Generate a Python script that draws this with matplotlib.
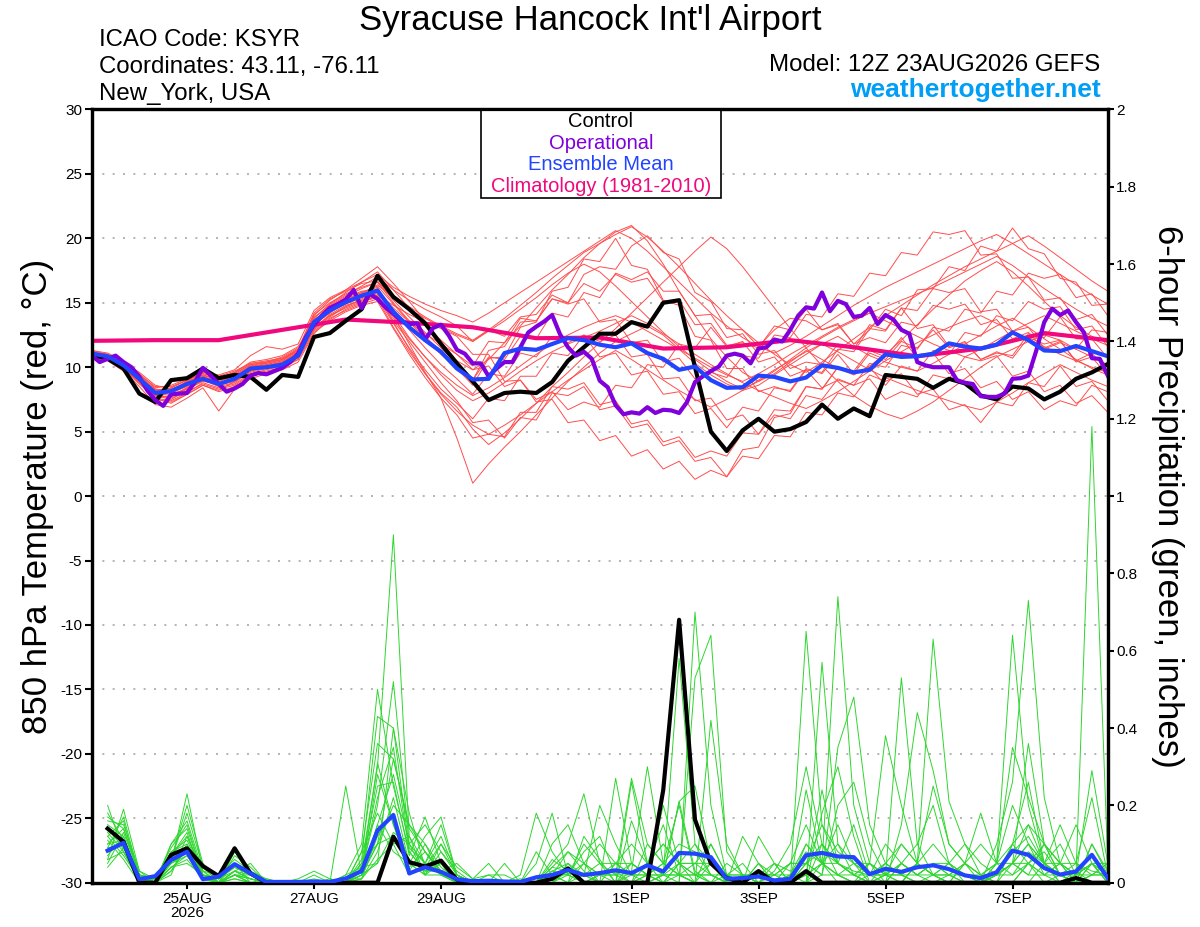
import matplotlib
matplotlib.use("Agg")
import matplotlib.pyplot as plt
from matplotlib.patches import Rectangle
import numpy as np

plt.rcParams["font.family"] = ["Liberation Sans", "DejaVu Sans"]
plt.rcParams["axes.unicode_minus"] = False

# Steps are 6-hourly from 12Z 23AUG2026 (step 0) to 12Z 8SEP (step 64).
date_ticks = [6, 14, 22, 34, 42, 50, 58]
date_labels = ["25AUG\n2026", "27AUG", "29AUG", "1SEP", "3SEP", "5SEP", "7SEP"]

# 850 hPa temperature, degC
control_temp = [10.97, 10.66, 9.9, 7.95, 7.3, 9.0, 9.15, 9.9, 9.15, 9.4, 9.25, 8.25, 9.4, 9.25,
                12.35, 12.65, 13.6, 14.5, 17.1, 15.45, 14.5, 13.4, 11.8, 10.3, 8.9, 7.45, 8.0,
                8.1, 8.0, 8.85, 10.5, 11.55, 12.6, 12.6, 13.5, 13.15, 15.0, 15.2, 10.0, 5.0, 3.5,
                5.1, 6.0, 5.0, 5.2, 5.75, 7.1, 6.0, 6.8, 6.2, 9.4, 9.25, 9.1, 8.4, 9.1, 8.75, 7.8,
                7.5, 8.5, 8.35, 7.5, 8.1, 9.1, 9.6, 10.25]
mean_temp = [11.05, 10.85, 10.15, 9.1, 8.0, 8.15, 8.7, 9.1, 8.7, 9.1, 9.9, 10.0, 10.2, 10.9,
             13.5, 14.4, 15.05, 15.55, 15.95, 14.3, 13.1, 12.1, 11.2, 9.9, 9.05, 9.1, 11.1,
             11.45, 11.35, 11.8, 12.25, 12.1, 11.75, 11.55, 11.85, 11.1, 10.65, 9.8, 10.05, 9.0,
             8.4, 8.45, 9.35, 9.25, 8.9, 9.2, 10.15, 9.95, 9.6, 9.8, 11.0, 10.8, 10.85, 11.05,
             11.85, 11.6, 11.45, 11.75, 12.7, 12.1, 11.3, 11.25, 11.65, 11.25, 10.85]
# operational run is 3-hourly
oper_temp = [10.9, 10.4, 10.65, 10.9, 10.4, 10.0, 9.25, 8.2, 7.45, 7.0, 7.9, 7.95, 8.0, 8.85,
             9.95, 9.35, 8.7, 8.1, 8.35, 8.7, 9.35, 9.55, 9.45, 9.7, 9.95, 10.4, 11.05, 12.35,
             13.3, 14.0, 14.6, 14.9, 15.25, 16.0, 14.6, 15.7, 15.3, 14.65, 14.15, 13.6, 13.35,
             13.4, 12.15, 13.05, 13.3, 12.45, 11.35, 11.05, 10.3, 10.3, 9.3, 9.9, 10.4, 10.4,
             11.55, 12.7, 13.15, 13.55, 14.05, 12.55, 11.55, 10.9, 11.2, 10.65, 8.95, 8.45,
             7.05, 6.35, 6.5, 6.4, 6.9, 6.45, 6.7, 6.65, 6.45, 7.3, 8.85, 9.3, 9.7, 10.05,
             10.9, 11.05, 10.9, 10.3, 11.45, 11.55, 12.15, 12.0, 12.9, 14.0, 14.65, 14.55,
             15.8, 14.35, 15.15, 14.9, 13.9, 14.0, 14.6, 13.35, 14.05, 13.7, 12.9, 12.6, 10.4,
             10.15, 10.0, 10.0, 10.0, 9.0, 8.8, 8.7, 7.75, 7.7, 7.7, 7.95, 9.1, 9.15, 9.35,
             11.3, 13.5, 14.55, 14.05, 14.4, 13.5, 12.7, 10.7, 10.65, 9.35]
# climatology, daily at 12Z
clim_temp = [12.05, 12.1, 12.1, 12.9, 13.7, 13.45, 13.1, 12.25, 12.3, 11.45, 11.55, 12.1,
             11.55, 10.85, 11.45, 12.65, 12.1]

# ensemble members, temperature
temp_m01 = [11.2, 10.9, 10.3, 9.4, 8.3, 8.0, 8.5, 9.2, 9.0, 9.3, 10.1, 10.4, 10.8, 11.5,
            13.8, 14.9, 15.6, 16.3, 17.0, 16.0, 15.2, 14.5, 13.9,
            13.2, 12.0, 12.9, 12.4, 13.9, 14.1, 15.6, 15.0, 17.2, 17.8, 17.6, 19.4, 20.2, 18.9,
            18.4, 15.8, 15.1, 13.0, 12.9, 11.6, 12.9, 13.8, 13.6, 12.9, 13.4, 11.8, 12.9, 14.5,
            14.0, 16.0, 16.1, 17.8, 17.5, 19.4, 19.0, 20.8, 19.2, 18.8, 16.9, 16.6, 14.8, 14.9]
temp_m02 = [10.8, 10.6, 9.8, 8.7, 7.6, 7.2, 7.9, 8.6, 8.2, 8.9, 9.6, 9.9, 10.1, 10.6,
            13.0, 14.1, 14.8, 15.2, 15.5, 13.6, 12.0, 10.4, 8.8,
            7.4, 5.7, 5.9, 4.5, 6.1, 5.9, 8.0, 7.8, 8.5, 6.7, 7.0, 5.3, 5.6, 3.9, 4.3, 2.7, 3.0,
            1.5, 3.1, 2.9, 4.7, 4.6, 6.5, 6.3, 8.0, 7.7, 9.4, 8.9, 9.5, 7.9, 8.3, 6.7, 7.1, 5.7,
            7.3, 7.0, 8.8, 8.5, 10.1, 8.5, 8.9, 7.4]
temp_m03 = [11.0, 10.7, 10.0, 9.0, 7.8, 7.5, 8.2, 9.0, 8.5, 8.8, 9.7, 10.0, 10.3, 11.2,
            14.0, 15.2, 16.0, 16.9, 17.8, 16.5, 15.1, 13.6, 12.0,
            10.5, 9.8, 10.6, 11.9, 13.2, 14.6, 16.0, 17.2, 18.5, 19.6, 20.5, 21.0, 19.8, 18.0,
            15.9, 14.0, 12.2, 10.8, 9.6, 8.9, 9.5, 10.4, 11.3, 10.6, 9.9, 9.4, 10.1, 11.0, 12.1,
            13.3, 14.5, 15.6, 16.7, 17.5, 18.2, 17.4, 16.3, 15.1, 14.0, 13.1, 12.4, 11.9]
temp_m04 = [11.1, 11.0, 10.4, 9.6, 8.6, 8.3, 8.8, 9.4, 9.1, 9.6, 10.4, 10.6, 10.9, 11.6,
            13.5, 14.6, 15.2, 15.8, 16.2, 14.0, 11.8, 9.6, 7.6,
            4.5, 1.0, 2.5, 3.8, 5.0, 6.3, 7.6, 8.9, 10.0, 11.1, 12.0, 12.6, 13.2, 12.5, 11.4,
            10.3, 9.4, 8.7, 8.2, 8.6, 9.4, 10.2, 11.0, 11.8, 12.4, 11.6, 10.9, 10.4, 10.0, 9.7,
            10.3, 11.0, 11.8, 12.5, 13.2, 13.8, 13.1, 12.2, 11.4, 10.6, 9.9, 9.4]
temp_m05 = [10.9, 10.8, 10.2, 9.2, 8.0, 8.4, 9.0, 9.5, 9.3, 9.7, 10.3, 10.5, 10.7, 11.3,
            12.8, 13.7, 14.5, 15.0, 15.6, 14.8, 14.1, 13.5, 13.0,
            12.4, 11.0, 11.0, 8.9, 9.0, 7.3, 7.5, 5.7, 5.9, 4.3, 4.7, 3.1, 3.6, 2.1, 2.7, 1.3,
            2.0, 1.5, 3.6, 3.8, 6.1, 6.4, 8.5, 8.3, 10.0, 9.5, 11.1, 10.6, 12.0, 11.5, 12.9,
            11.5, 12.0, 10.6, 11.2, 10.7, 12.3, 11.8, 12.1, 10.4, 10.8, 9.3]
temp_m06 = [11.3, 11.1, 10.5, 9.5, 8.4, 8.6, 9.1, 9.7, 9.2, 9.5, 10.2, 10.3, 10.6, 11.4,
            14.2, 15.3, 15.9, 16.5, 16.7, 15.2, 13.9, 12.7, 11.5,
            10.3, 9.0, 10.8, 10.6, 12.4, 12.2, 14.2, 13.9, 15.8, 15.4, 17.3, 16.8, 17.4, 15.9,
            15.9, 14.0, 14.1, 12.3, 12.6, 11.0, 11.3, 9.9, 10.4, 10.2, 11.8, 11.4, 13.3, 12.9,
            14.6, 13.0, 13.3, 11.6, 11.9, 10.6, 11.1, 10.9, 12.6, 12.3, 13.9, 12.2, 12.2, 10.7]
temp_m07 = [10.7, 10.5, 9.7, 8.5, 7.1, 6.9, 7.6, 8.4, 6.6, 8.3, 9.1, 9.5, 9.8, 10.4,
            12.6, 13.8, 14.4, 14.9, 15.3, 13.1, 11.2, 9.5, 8.0,
            6.9, 5.2, 4.0, 4.9, 6.0, 7.2, 8.5, 9.6, 10.8, 11.9, 13.0, 14.2, 15.4, 16.6, 17.8,
            19.0, 20.1, 19.2, 17.8, 16.2, 14.6, 13.0, 11.5, 10.1, 8.9, 7.8, 7.0, 6.4, 6.0, 6.6,
            7.3, 8.2, 9.1, 10.0, 10.8, 11.4, 12.0, 12.5, 12.1, 11.4, 10.8, 10.2]
temp_m08 = [11.0, 10.9, 10.1, 9.3, 8.1, 7.9, 8.3, 8.9, 8.7, 9.0, 9.8, 10.1, 10.4, 11.0,
            13.3, 14.2, 15.1, 15.7, 16.4, 15.4, 14.5, 13.8, 13.1,
            12.5, 12.0, 12.8, 13.6, 14.5, 15.4, 16.4, 17.3, 18.0, 17.4, 16.3, 15.1, 13.9, 12.7,
            11.6, 10.6, 9.7, 8.9, 8.3, 8.9, 9.7, 10.6, 11.5, 12.3, 13.0, 13.6, 14.2, 14.7, 15.2,
            15.7, 16.2, 16.8, 17.4, 18.0, 18.6, 17.9, 17.0, 16.1, 15.3, 14.5, 13.8, 13.2]
temp_m09 = [11.1, 10.7, 9.9, 8.9, 7.7, 7.7, 8.4, 9.1, 8.6, 9.2, 10.0, 10.2, 10.5, 11.3,
            13.9, 14.7, 15.4, 15.9, 16.0, 14.4, 12.9, 11.5, 10.2,
            9.1, 7.9, 9.5, 9.3, 11.1, 10.8, 12.4, 11.9, 12.5, 10.8, 11.1, 9.4, 9.7, 7.9, 8.1,
            6.4, 6.8, 5.3, 6.9, 6.6, 8.4, 8.2, 9.9, 9.5, 11.0, 9.5, 10.0, 8.6, 10.1, 9.7, 11.3,
            11.0, 12.7, 12.4, 14.0, 13.6, 15.1, 14.5, 14.7, 12.9, 13.2, 11.6]
temp_m10 = [10.9, 10.8, 10.3, 9.3, 8.2, 8.1, 8.9, 9.4, 9.0, 9.4, 10.1, 10.2, 10.5, 11.1,
            13.6, 14.8, 15.5, 16.1, 16.6, 15.0, 13.6, 12.4, 11.2,
            10.0, 9.0, 11.3, 11.6, 13.5, 13.6, 15.3, 15.0, 16.5, 15.9, 17.2, 16.6, 16.9, 15.1,
            15.2, 13.3, 13.4, 11.7, 11.9, 11.5, 13.2, 12.9, 14.5, 12.9, 13.3, 11.8, 12.3, 11.9,
            13.5, 13.2, 14.8, 14.5, 14.9, 13.3, 13.7, 12.2, 12.7, 11.4, 11.9, 11.4, 12.9, 12.7]
temp_m11 = [11.0, 10.6, 9.9, 8.8, 7.9, 8.2, 8.9, 9.3, 8.8, 9.0, 9.8, 10.0, 10.3, 11.0,
            13.2, 14.3, 15.0, 15.6, 16.1, 14.1, 12.3, 10.8, 9.4,
            8.2, 7.4, 8.0, 8.8, 9.7, 10.5, 11.2, 11.8, 12.3, 12.8, 13.4, 14.0, 13.4, 12.6, 11.8,
            11.0, 10.2, 9.5, 8.8, 8.2, 7.7, 7.2, 6.8, 7.4, 8.1, 8.9, 9.7, 10.5, 11.2, 11.9,
            12.5, 13.1, 13.6, 14.0, 13.4, 12.8, 12.2, 11.6, 11.0, 10.5, 10.0, 9.6]
temp_m12 = [11.2, 11.0, 10.4, 9.4, 8.5, 8.5, 9.0, 9.6, 9.4, 9.8, 10.9, 11.6, 11.4, 11.8,
            14.4, 15.4, 16.0, 16.6, 17.2, 16.2, 15.5, 14.9, 14.4,
            14.0, 13.5, 14.2, 15.0, 15.8, 16.6, 17.4, 18.2, 19.0, 19.8, 20.6, 20.0, 19.0, 17.8,
            16.6, 15.4, 14.2, 13.2, 12.3, 11.6, 11.1, 11.7, 12.4, 13.2, 14.0, 14.8, 15.5, 16.2,
            16.8, 17.4, 18.0, 18.6, 19.2, 19.8, 20.3, 19.6, 18.8, 18.0, 17.2, 16.4, 15.6, 14.9]
temp_m13 = [10.8, 10.7, 10.0, 9.0, 7.9, 7.6, 8.1, 8.7, 8.3, 8.6, 9.4, 9.7, 10.0, 10.8,
            13.1, 14.0, 14.6, 15.1, 15.4, 13.4, 11.5, 9.8, 8.3,
            7.2, 6.0, 7.6, 7.4, 9.3, 9.3, 11.1, 10.9, 12.5, 12.0, 12.5, 10.8, 11.0, 9.1, 9.2,
            7.4, 7.6, 5.9, 6.3, 4.8, 6.3, 6.0, 7.8, 7.5, 9.1, 8.6, 9.1, 7.5, 8.1, 7.7, 9.4,
            9.1, 10.8, 10.5, 10.9, 9.3, 9.7, 8.1, 8.6, 7.2, 7.8, 6.5]
temp_m14 = [11.1, 10.9, 10.2, 9.2, 8.3, 8.2, 8.6, 9.2, 8.9, 9.3, 10.0, 10.3, 10.6, 11.2,
            13.7, 14.5, 15.3, 15.8, 16.3, 14.9, 13.5, 12.2, 11.0,
            9.9, 8.6, 10.7, 10.8, 13.1, 13.5, 15.9, 16.2, 18.4, 18.2, 20.0, 17.9, 17.6, 15.2,
            14.8, 12.4, 12.1, 9.9, 9.9, 8.1, 8.5, 8.1, 9.8, 9.6, 11.4, 11.2, 13.0, 12.8, 14.6,
            14.4, 16.1, 15.8, 16.1, 14.3, 14.5, 12.8, 13.1, 11.5, 12.0, 10.5, 11.1, 9.7]
temp_m15 = [10.9, 10.6, 9.9, 8.9, 7.6, 7.4, 8.0, 8.8, 8.4, 8.7, 9.5, 9.8, 10.1, 10.7,
            12.9, 13.9, 14.7, 15.3, 15.8, 14.6, 13.5, 12.6, 11.8,
            11.0, 9.8, 10.1, 8.5, 9.0, 7.5, 8.1, 6.7, 7.3, 6.9, 8.6, 8.4, 10.2, 10.0, 11.8,
            11.5, 13.1, 11.6, 12.0, 10.4, 10.8, 9.3, 9.8, 8.4, 9.0, 8.6, 10.3, 10.0, 11.7, 11.4,
            13.1, 12.8, 14.5, 14.2, 15.9, 15.6, 17.3, 16.9, 17.2, 15.4, 15.7, 14.0]
temp_m16 = [11.3, 11.0, 10.3, 9.3, 8.0, 7.8, 8.4, 9.1, 8.8, 9.1, 9.9, 10.1, 10.4, 11.1,
            13.4, 14.3, 14.9, 15.4, 15.7, 13.5, 11.4, 9.5, 7.9,
            6.6, 5.5, 4.8, 5.5, 6.3, 7.2, 8.1, 9.0, 9.8, 10.6, 11.3, 10.6, 9.8, 9.0, 8.2, 7.5,
            6.9, 7.5, 8.2, 9.0, 9.8, 10.5, 11.2, 11.8, 11.2, 10.5, 9.8, 9.2, 8.7, 8.2, 7.8, 7.4,
            7.0, 6.7, 7.3, 8.0, 8.8, 9.5, 10.2, 9.6, 9.0, 8.5]
temp_m17 = [11.0, 10.8, 10.1, 9.1, 8.1, 8.0, 8.6, 9.3, 9.1, 9.5, 10.2, 10.4, 10.7, 11.4,
            14.1, 15.0, 15.7, 16.2, 16.6, 15.6, 14.7, 13.9, 13.2,
            12.6, 12.1, 12.9, 13.8, 14.8, 15.8, 16.9, 17.9, 18.9, 19.6, 20.3, 20.9, 20.1, 19.0,
            17.8, 16.5, 15.2, 14.0, 12.9, 11.9, 11.0, 10.2, 9.6, 10.4, 11.3, 12.2, 13.1, 14.0,
            14.8, 15.6, 16.4, 17.1, 17.8, 18.4, 19.0, 19.6, 20.2, 19.4, 18.5, 17.6, 16.7, 15.9]
temp_m18 = [10.8, 10.6, 10.0, 8.8, 7.5, 7.3, 7.9, 8.6, 8.1, 8.5, 9.3, 9.6, 9.9, 10.6,
            12.7, 13.6, 14.3, 14.8, 15.1, 13.0, 11.0, 9.2, 7.6,
            6.3, 4.5, 4.8, 4.6, 6.5, 6.5, 8.5, 8.3, 8.8, 7.1, 7.4, 5.6, 5.9, 4.2, 4.6, 3.0, 3.5,
            3.1, 4.9, 4.8, 6.7, 6.6, 8.5, 8.3, 10.0, 9.7, 11.3, 10.8, 12.3, 10.7, 11.1, 9.5,
            9.9, 8.4, 8.9, 7.5, 8.1, 6.7, 7.4, 7.0, 8.6, 8.1]
temp_m19 = [11.2, 10.8, 10.1, 9.1, 8.2, 8.4, 9.0, 9.5, 9.2, 9.6, 10.3, 10.4, 10.6, 11.3,
            13.8, 14.9, 15.8, 16.6, 17.4, 16.0, 14.6, 13.3, 12.1,
            11.0, 10.1, 12.0, 11.9, 13.8, 13.6, 15.3, 14.9, 15.3, 13.5, 13.7, 11.9, 12.1, 10.4,
            10.7, 9.1, 9.6, 9.2, 10.9, 10.7, 12.5, 12.3, 14.1, 13.9, 15.7, 15.5, 17.3, 17.1,
            18.9, 18.7, 20.5, 20.3, 20.6, 18.7, 18.8, 16.9, 17.0, 15.2, 15.4, 13.7, 14.1, 12.5]
temp_m20 = [10.9, 10.7, 10.0, 9.0, 7.8, 7.7, 8.3, 9.0, 8.6, 8.9, 9.7, 10.0, 10.3, 10.9,
            13.0, 14.0, 14.7, 15.2, 15.5, 13.8, 12.2, 10.8, 9.6,
            8.6, 7.8, 8.4, 9.2, 10.1, 11.0, 11.8, 12.5, 13.1, 13.6, 14.0, 13.5, 12.8, 12.1,
            11.4, 10.7, 10.0, 9.4, 8.9, 9.5, 10.2, 11.0, 11.7, 12.4, 13.1, 13.7, 14.2, 13.6,
            13.0, 12.4, 11.8, 11.3, 10.8, 11.4, 12.1, 12.8, 13.4, 14.0, 13.4, 12.8, 12.2, 11.7]

# 6-hour precipitation, inches (steps 1..64)
control_precip = [.14, .106, 0, 0, .072, .089, .043, .017, .089, .024, 0, 0, 0, 0, 0, 0,
                  0, 0, .119, .053, .042, .057, .008, 0, 0, 0, 0, 0, .01, .037, 0, 0,
                  0, 0, 0, .24, .68, .163, .05, .012, 0, .03, 0, 0, .03, 0, 0, 0,
                  0, 0, 0, 0, 0, 0, 0, 0, 0, 0, 0, 0, 0, .012, 0, 0]
mean_precip = [.083, .103, .009, .017, .059, .08, .009, .016, .048, .024, .002, .002, .002,
               .003, .002, .011, .03, .135, .175, .024, .04, .028, .009, .004, .005, .003,
               .002, .014, .02, .033, .02, .025, .032, .025, .045, .029, .077, .075, .066,
               .01, .012, .016, .006, .01, .071, .077, .068, .066, .022, .036, .028, .04,
               .045, .035, .019, .012, .027, .083, .072, .038, .021, .029, .072, .012]

precip_m01 = [.15, .12, .01, 0, .08, .10, .02, 0, .03, .01, 0, 0, 0, 0, 0, 0,
              .05, .30, .90, .12, .05, .02, 0, 0, 0, 0, 0, 0, .03, .05, 0, 0,
              0, 0, 0, .02, .58, .10, .02, 0, 0, 0, 0, 0, 0, .05, .74, .20,
              .05, 0, 0, 0, 0, 0, 0, 0, 0, 0, .05, .10, .02, 0, 0, 0]
precip_m02 = [.10, .14, .02, .01, .05, .23, .03, 0, .02, .02, 0, 0, 0, 0, 0, .02,
              .10, .50, .25, .08, .03, .06, .01, 0, 0, 0, 0, .05, .18, .02, 0, 0,
              .27, .05, .02, 0, 0, .70, .20, .02, 0, 0, 0, 0, .24, .05, 0, 0,
              0, .02, .53, .10, .02, 0, 0, 0, 0, .05, .36, .10, .02, 0, 0, 0]
precip_m03 = [.20, .08, 0, 0, .04, .07, .01, 0, .08, .02, 0, 0, 0, 0, 0, .25,
              .02, .05, .40, .18, .04, .10, .02, 0, 0, 0, 0, 0, 0, .03, .02, 0,
              0, .03, .30, .05, .02, 0, .42, .10, .02, 0, 0, 0, .65, .15, .05, .02,
              0, 0, 0, .05, .63, .21, .10, .02, 0, 0, 0, .05, .10, .02, 1.18, .05]
precip_m04 = [.06, .19, .03, 0, .10, .14, .02, .01, .05, 0, .01, 0, 0, 0, 0, 0,
              .08, .36, .32, .15, .10, .04, .01, 0, 0, 0, 0, 0, .05, .10, .23, .05,
              .02, .27, .10, .05, .20, .02, 0, 0, 0, 0, 0, 0, 0, .57, .10, .02,
              0, 0, .05, .02, 0, 0, .05, .18, .05, .64, .20, .05, 0, .03, 0, 0]
precip_m05 = [.08, .10, 0, .01, .06, .18, .04, 0, .03, .05, 0, 0, 0, 0, 0, 0,
              .04, .25, .26, .07, .17, .05, 0, 0, 0, 0, .02, .18, .08, .02, 0, 0,
              0, .26, .05, .02, 0, .53, .64, .08, .02, 0, 0, 0, .05, .02, .35, .48,
              .15, .05, .02, 0, 0, 0, 0, 0, .10, .26, .73, .22, .05, 0, 0, 0]
precip_m06 = [.12, .16, .01, 0, .03, .09, .01, 0, .02, 0, 0, 0, .01, .03, .01, 0,
              .02, .10, .32, .14, .08, .03, .05, .01, .05, 0, 0, 0, 0, 0, .12, .06,
              0, .16, .05, .02, .21, .03, 0, 0, .12, .05, 0, .02, 0, .02, .20, .26,
              .10, .02, 0, 0, 0, 0, 0, 0, .02, .05, .10, .05, .15, .05, .22, .02]
precip_m07 = [.18, .11, .02, 0, .07, .12, .03, .02, .06, .03, .01, 0, 0, 0, 0, 0,
              .03, .20, .52, .10, .02, .08, .03, 0, 0, 0, 0, 0, .04, .08, .03, 0,
              0, 0, .02, .20, .05, 0, 0, .02, 0, 0, 0, .05, .15, .05, .02, 0,
              .05, .38, .20, .05, .02, 0, 0, 0, 0, .10, .26, .05, 0, .02, .29, .05]
precip_m08 = [.05, .13, .02, .01, .09, .15, .02, 0, .02, .01, 0, 0, 0, 0, 0, 0,
              .06, .43, .40, .09, .05, .15, .02, 0, 0, .05, 0, 0, 0, .02, .10, .05,
              0, 0, .05, .10, .05, .05, .10, .02, 0, .12, .05, 0, .02, .24, .05, .02,
              0, 0, .15, .44, .29, .10, .05, 0, .05, .10, .15, .05, .02, 0, .05, 0]
precip_m09 = [.14, .09, .01, 0, .04, .05, .02, .01, .04, .02, 0, 0, 0, .02, 0, .01,
              .01, .08, .22, .05, .12, .17, .02, 0, 0, 0, 0, .08, .02, 0, 0, 0,
              0, 0, 0, .02, .21, .25, .05, 0, 0, 0, 0, 0, 0, .18, .30, .12,
              0, 0, 0, .05, .25, .10, .05, .02, .05, .20, .10, .02, 0, 0, .10, .02]
precip_m10 = [.09, .17, .02, 0, .06, .20, .05, 0, .07, .04, 0, 0, 0, 0, 0, 0,
              .03, .31, .15, .06, .03, .05, 0, 0, 0, 0, 0, 0, .10, .15, .05, 0,
              .05, .05, .02, 0, .05, .02, .05, 0, .02, 0, .03, .10, .30, .10, .02, 0,
              0, .05, .10, .05, .02, .05, 0, 0, .05, .35, .22, .10, .05, .15, .05, 0]
precip_m11 = [.11, .06, 0, 0, .05, .08, .01, 0, .01, 0, 0, 0, 0, 0, 0, 0,
              .02, .15, .28, .10, .05, .03, .02, 0, 0, 0, 0, 0, 0, .05, .02, .20,
              .10, .02, .02, .05, .02, 0, .10, .02, 0, .05, 0, 0, .10, .05, .10, .05,
              .02, .10, .05, .02, .05, .05, .02, 0, .02, .05, .05, 0, .02, 0, .02, .05]
precip_m12 = [.16, .15, .03, .01, .08, .11, .02, 0, .03, .02, 0, 0, 0, 0, 0, 0,
              .05, .10, .20, .15, .08, .03, .01, 0, 0, 0, 0, 0, .06, .03, 0, .02,
              .03, 0, .02, .05, .10, .08, .02, 0, 0, 0, .05, 0, .05, .10, .05, .03,
              .02, 0, .05, .10, .20, .05, .02, 0, .03, .08, .12, .05, .02, 0, .05, .02]
precip_m13 = [.07, .12, .01, 0, .10, .16, .03, 0, .02, .01, 0, 0, 0, 0, 0, 0,
              .02, .28, .15, .03, .10, .02, 0, 0, 0, 0, 0, 0, 0, .04, .02, 0,
              0, .02, .05, .15, .02, 0, 0, .05, .02, 0, 0, 0, 0, .10, .05, .15,
              .02, .05, .02, 0, 0, .02, .05, .02, 0, 0, .05, .08, .02, 0, .10, .03]
precip_m14 = [.13, .08, .02, 0, .05, .07, .02, 0, .02, 0, 0, 0, 0, 0, .01, 0,
              .08, .18, .10, .12, .02, .05, 0, 0, 0, 0, 0, 0, .02, 0, .05, .10,
              .05, .10, .05, 0, .05, .05, .02, 0, 0, .05, .02, 0, .02, .05, .15, .05,
              0, .02, .05, .02, .05, .02, 0, 0, .02, .05, .02, .10, .05, .02, .05, .05]
precip_m15 = [.10, .11, 0, 0, .07, .13, .01, 0, .05, .03, 0, 0, 0, 0, 0, 0,
              .01, .12, .18, .05, .02, .10, .04, .01, .02, 0, 0, 0, .03, .02, .08, .12,
              .02, 0, .10, .05, .02, .05, .05, .02, .05, 0, .02, .05, .05, .08, .05, .02,
              .05, .02, .10, .05, .02, .05, .10, .05, .02, .02, .08, .05, .05, .02, .05, 0]
precip_m16 = [.17, .14, .02, 0, .03, .10, .02, .01, .03, .01, 0, 0, 0, 0, 0, 0,
              .03, .22, .35, .08, .03, .03, 0, 0, 0, 0, 0, 0, 0, 0, .02, .05,
              .05, .02, .05, .10, .05, .02, 0, 0, 0, .03, 0, .02, .10, .05, .02, 0,
              .02, .02, 0, .05, .02, 0, .05, .10, .05, .05, .10, .05, .02, .05, .03, .02]
precip_m17 = [.04, .09, .01, 0, .06, .09, .02, 0, .02, 0, 0, 0, 0, 0, 0, .02,
              .04, .05, .13, .10, .15, .08, .02, 0, 0, 0, 0, 0, .02, .08, .05, .02,
              0, .05, .02, .02, .05, .10, .05, .02, 0, .02, .05, .03, .05, .15, .08, .05,
              .02, .05, .02, .02, .05, .02, .02, 0, .02, .05, .15, .10, .05, 0, .02, .02]
precip_m18 = [.12, .07, .01, 0, .04, .06, .01, 0, .01, 0, 0, 0, 0, 0, 0, 0,
              .01, .06, .10, .02, .05, .12, .02, 0, .02, .02, 0, 0, 0, 0, 0, .02,
              .05, .02, 0, .02, .02, .02, .02, 0, 0, .02, .02, .05, .05, .02, .02, .05,
              .05, .02, .02, .05, .10, .05, .02, .02, .05, .02, .05, .02, .05, .05, .02, .05]
precip_m19 = [.09, .10, .02, .01, .05, .08, .02, .01, .04, .02, 0, 0, 0, .01, 0, 0,
              .02, .15, .08, .05, .02, .02, 0, 0, 0, 0, .01, 0, .04, .03, .02, .02,
              .02, .05, .02, .02, .02, 0, .05, .02, .02, .02, 0, .02, .08, .05, .02, .02,
              .05, .02, .02, 0, .02, .02, .05, .02, .02, .10, .05, .02, .02, .02, .02, .02]
precip_m20 = [.06, .08, .01, 0, .02, .12, .02, 0, .02, .01, 0, 0, 0, 0, 0, 0,
              .02, .10, .12, .04, .08, .02, .01, 0, 0, 0, 0, 0, .02, .02, .05, .02,
              .02, .02, .02, 0, .02, .02, .02, .02, .02, .02, .02, .02, .02, .05, .05, .02,
              .02, .02, .05, .02, .02, .02, 0, 0, .02, .05, .02, .02, .05, .02, .05, .02]

temp_members = [temp_m01, temp_m02, temp_m03, temp_m04, temp_m05, temp_m06, temp_m07,
                temp_m08, temp_m09, temp_m10, temp_m11, temp_m12, temp_m13, temp_m14,
                temp_m15, temp_m16, temp_m17, temp_m18, temp_m19, temp_m20]
precip_members = [precip_m01, precip_m02, precip_m03, precip_m04, precip_m05, precip_m06,
                  precip_m07, precip_m08, precip_m09, precip_m10, precip_m11, precip_m12,
                  precip_m13, precip_m14, precip_m15, precip_m16, precip_m17, precip_m18,
                  precip_m19, precip_m20]


def main():
    steps = np.arange(len(mean_temp))
    precip_steps = np.arange(1, len(mean_precip) + 1)
    oper_steps = np.arange(len(oper_temp)) / 2.0
    clim_steps = np.arange(len(clim_temp)) * 4

    fig = plt.figure(figsize=(12, 9.27), dpi=100)
    ax = fig.add_axes([0.07646, 0.04779, 0.84667, 0.8341])
    ax2 = ax.twinx()

    for member in temp_members:
        ax.plot(steps, member, color="#ff4d4d", lw=0.7, zorder=2)
    ax.plot(clim_steps, clim_temp, color="#f0087c", lw=3, zorder=3)
    ax.plot(steps, control_temp, color="black", lw=3, zorder=4)
    ax.plot(oper_steps, oper_temp, color="#8000dc", lw=3, zorder=5)
    ax.plot(steps, mean_temp, color="#2244ff", lw=3, zorder=6)

    for member in precip_members:
        ax2.plot(precip_steps, member, color="#2ed62e", lw=0.7, zorder=2)
    ax2.plot(precip_steps, control_precip, color="black", lw=3, zorder=4)
    ax2.plot(precip_steps, mean_precip, color="#2244ff", lw=3, zorder=5)

    ax.set_xlim(0, 64)
    ax.set_ylim(-30, 30)
    ax2.set_ylim(0, 2)
    ax.set_yticks(np.arange(-30, 31, 5))
    ax2.set_yticks(np.arange(0, 2.01, 0.2))
    ax2.set_yticklabels(["%g" % round(v, 1) for v in np.arange(0, 2.01, 0.2)])
    ax.set_xticks(date_ticks)
    ax.set_xticklabels(date_labels, linespacing=1.0)

    ax.yaxis.grid(True, linestyle=(0, (1.2, 5)), color="#a8a8a8", lw=1.2)
    ax.set_axisbelow(True)

    ax.tick_params(axis="y", direction="out", length=5, width=1.5, labelsize=11, pad=2)
    ax.tick_params(axis="x", direction="out", length=4, width=1.5, labelsize=11, pad=3)
    ax2.tick_params(axis="y", direction="out", length=4, width=1.5, labelsize=11, pad=2)

    for a in (ax, ax2):
        for side in ("left", "right", "bottom", "top"):
            a.spines[side].set_linewidth(2.3)

    ax.set_ylabel("850 hPa Temperature (red, °C)", fontsize=25, labelpad=4)
    ax2.set_ylabel("6-hour Precipitation (green, inches)", fontsize=25, rotation=270,
                   labelpad=34)

    # legend box
    ax.add_patch(Rectangle((0.383, 0.886), 0.236, 0.114, transform=ax.transAxes,
                           facecolor="white", edgecolor="black", lw=1.2, zorder=10))
    legend_items = [("Control", "black"), ("Operational", "#8000dc"),
                    ("Ensemble Mean", "#2244ff"), ("Climatology (1981-2010)", "#f0087c")]
    for k, (text, color) in enumerate(legend_items):
        ax.text(0.501, 0.977 - k * 0.0278, text, color=color, fontsize=14.5,
                ha="center", va="baseline", transform=ax.transAxes, zorder=11)

    fig.text(0.4917, 1 - 30.0 / 927, "Syracuse Hancock Int'l Airport", fontsize=25,
             ha="center", va="baseline")
    fig.text(0.0822, 1 - 46.0 / 927, "ICAO Code: KSYR", fontsize=17.3, va="baseline")
    fig.text(0.0822, 1 - 73.0 / 927, "Coordinates: 43.11, -76.11", fontsize=17.3,
             va="baseline")
    fig.text(0.0822, 1 - 100.0 / 927, "New_York, USA", fontsize=17.3, va="baseline")
    fig.text(0.9172, 1 - 71.0 / 927, "Model: 12Z 23AUG2026 GEFS", fontsize=17.3,
             ha="right", va="baseline")
    fig.text(0.9172, 1 - 97.0 / 927, "weathertogether.net", fontsize=19, ha="right",
             va="baseline", color="#009ff5", fontweight="bold")

    fig.savefig("out.png", dpi=100)


if __name__ == "__main__":
    main()
